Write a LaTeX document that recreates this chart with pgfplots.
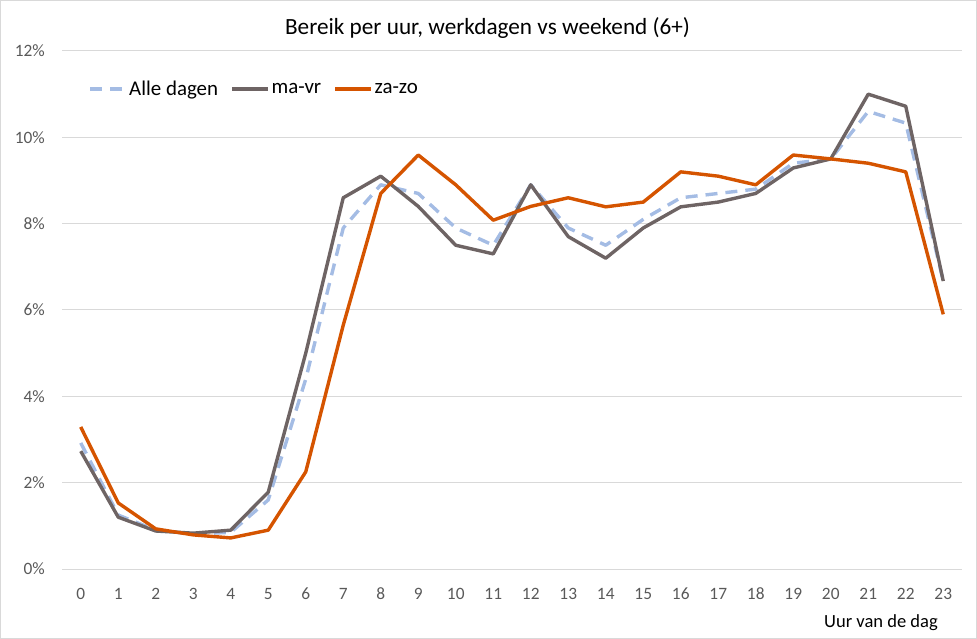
\documentclass[border=0pt]{standalone}
\usepackage{pgfplots}
\pgfplotsset{compat=1.18}
\usepackage{fontspec}
\setmainfont{Carlito}
\definecolor{gridc}{RGB}{217,217,217}
\definecolor{tickc}{RGB}{89,89,89}
\definecolor{alle}{RGB}{164,188,228}
\definecolor{mavr}{RGB}{110,100,100}
\definecolor{zazo}{RGB}{213,84,0}
\begin{document}
\begin{tikzpicture}
\begin{axis}[
  at={(62bp,70bp)}, anchor=south west,
  scale only axis, width=900bp, height=518bp,
  xmin=-0.5, xmax=23.5, ymin=0, ymax=12,
  xtick={0,...,23}, ytick={0,2,...,12},
  axis line style={draw=none},
  ymajorgrids, grid style={gridc, line width=1bp},
  major tick length=0pt,
  /pgf/number format/assume math mode=true,
  tick label style={font=\fontsize{17.4}{20}\selectfont, text=tickc, inner sep=0pt},
  yticklabel={\pgfmathprintnumber{\tick}\%},
  yticklabel style={anchor=east, xshift=-17bp},
  xticklabel style={anchor=center, yshift=-24.5bp},
  clip=false,
  legend style={at={(0.029,0.927)}, anchor=west, draw=none, fill=none,
    font=\fontsize{21}{24}\selectfont, inner sep=0pt,
    nodes={inner sep=1.5bp},
    /tikz/every even column/.append style={column sep=11bp}},
  legend columns=3,
  legend image code/.code={\draw[#1] (0bp,0bp) -- (36bp,0bp);},
  every axis plot/.append style={line width=3.4bp, line join=round, no markers},
]
\addplot[alle, dash pattern=on 12bp off 8bp] coordinates {
(0,2.92) (1,1.25) (2,0.90) (3,0.81) (4,0.85) (5,1.60) (6,4.40) (7,7.90)
(8,8.90) (9,8.70) (10,7.90) (11,7.50) (12,8.90) (13,7.90) (14,7.50) (15,8.10)
(16,8.60) (17,8.70) (18,8.80) (19,9.40) (20,9.50) (21,10.60) (22,10.33) (23,6.67)};
\addlegendentry{Alle dagen}
\addplot[mavr] coordinates {
(0,2.73) (1,1.20) (2,0.88) (3,0.83) (4,0.90) (5,1.78) (6,5.00) (7,8.60)
(8,9.10) (9,8.40) (10,7.50) (11,7.30) (12,8.90) (13,7.70) (14,7.20) (15,7.90)
(16,8.39) (17,8.50) (18,8.70) (19,9.29) (20,9.50) (21,11.00) (22,10.72) (23,6.67)};
\addlegendentry{ma-vr}
\addplot[zazo] coordinates {
(0,3.29) (1,1.53) (2,0.93) (3,0.79) (4,0.72) (5,0.90) (6,2.25) (7,5.65)
(8,8.70) (9,9.59) (10,8.90) (11,8.08) (12,8.40) (13,8.60) (14,8.39) (15,8.50)
(16,9.20) (17,9.10) (18,8.90) (19,9.59) (20,9.50) (21,9.40) (22,9.20) (23,5.90)};
\addlegendentry{za-zo}
\end{axis}
\node[font=\fontsize{23.3}{28}\selectfont, anchor=base, inner sep=0pt] at (487.5bp,604bp) {Bereik per uur, werkdagen vs weekend (6+)};
\node[font=\fontsize{18.6}{22}\selectfont, anchor=base east, inner sep=0pt] at (938bp,12bp) {Uur van de dag};
\pgfresetboundingbox
\draw[gridc, line width=1bp] (0.5bp,0.5bp) rectangle (976.5bp,638.5bp);
\useasboundingbox (0,0) rectangle (977bp,639bp);
\end{tikzpicture}
\end{document}
